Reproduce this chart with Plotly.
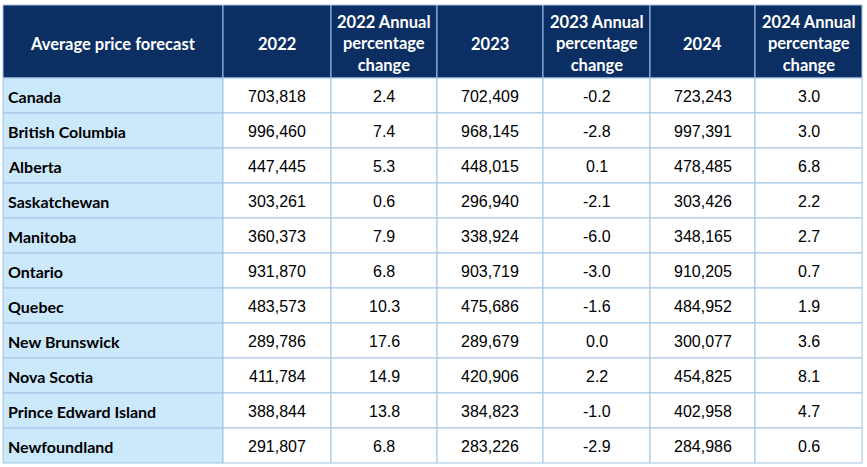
import plotly.graph_objects as go
import numpy as np

regions = ["Canada", "British Columbia", "Alberta", "Saskatchewan", "Manitoba", "Ontario",
           "Quebec", "New Brunswick", "Nova Scotia", "Prince Edward Island", "Newfoundland"]
price_2022 = [703818, 996460, 447445, 303261, 360373, 931870, 483573, 289786, 411784, 388844, 291807]
pct_2022 = [2.4, 7.4, 5.3, 0.6, 7.9, 6.8, 10.3, 17.6, 14.9, 13.8, 6.8]
price_2023 = [702409, 968145, 448015, 296940, 338924, 903719, 475686, 289679, 420906, 384823, 283226]
pct_2023 = [-0.2, -2.8, 0.1, -2.1, -6.0, -3.0, -1.6, 0.0, 2.2, -1.0, -2.9]
price_2024 = [723243, 997391, 478485, 303426, 348165, 910205, 484952, 300077, 454825, 402958, 284986]
pct_2024 = [3.0, 3.0, 6.8, 2.2, 2.7, 0.7, 1.9, 3.6, 8.1, 4.7, 0.6]

headers = ["Average price forecast", "2022", "2022 Annual<br>percentage<br>change",
           "2023", "2023 Annual<br>percentage<br>change",
           "2024", "2024 Annual<br>percentage<br>change"]

# layout (pixels)
W, H = 867, 467
left, top = 3, 5
col_widths = [220, 108, 106, 106, 107, 105, 107]
header_h = 73
row_h = 35

navy = "#0B2F63"
lightblue = "#CCE9FC"
border = "#A0C4E4"

def fmt_price(v):
    return [f"{x:,}" for x in v]

def fmt_pct(v):
    return [f"{x:.1f}" for x in v]

cols = [
    regions,
    fmt_price(price_2022), fmt_pct(pct_2022),
    fmt_price(price_2023), fmt_pct(pct_2023),
    fmt_price(price_2024), fmt_pct(pct_2024),
]

x_edges = left + np.concatenate([[0], np.cumsum(col_widths)])
n = len(regions)
y_edges = [top, top + header_h] + [top + header_h + row_h * (i + 1) for i in range(n)]

shapes = []
annotations = []

# header
for j, h in enumerate(headers):
    x0, x1 = x_edges[j], x_edges[j + 1]
    y0, y1 = y_edges[0], y_edges[1]
    shapes.append(dict(type="rect", x0=x0, x1=x1, y0=y0, y1=y1, xref="x", yref="y",
                       fillcolor=navy, line=dict(color=border, width=1), layer="below"))
    annotations.append(dict(x=(x0 + x1) / 2, y=(y0 + y1) / 2 + 2, xref="x", yref="y",
                            text="<b>" + h + "</b>", showarrow=False, align="center",
                            xanchor="center", yanchor="middle",
                            font=dict(family="Lato", size=16.5, color="white")))

# body
for j, col in enumerate(cols):
    x0, x1 = x_edges[j], x_edges[j + 1]
    for i, val in enumerate(col):
        y0, y1 = y_edges[i + 1], y_edges[i + 2]
        shapes.append(dict(type="rect", x0=x0, x1=x1, y0=y0, y1=y1, xref="x", yref="y",
                           fillcolor=lightblue if j == 0 else "white",
                           line=dict(color=border, width=1), layer="below"))
        if j == 0:
            annotations.append(dict(x=x0 + 3, y=(y0 + y1) / 2 + 1, xref="x", yref="y",
                                    text="<b>" + val + "</b>", showarrow=False,
                                    xanchor="left", yanchor="middle",
                                    font=dict(family="Lato", size=16, color="black")))
        else:
            annotations.append(dict(x=(x0 + x1) / 2, y=(y0 + y1) / 2 + 1, xref="x", yref="y",
                                    text=val, showarrow=False,
                                    xanchor="center", yanchor="middle",
                                    font=dict(family="Liberation Sans", size=16, color="black")))

fig = go.Figure()
fig.update_layout(
    width=W, height=H,
    margin=dict(l=0, r=0, t=0, b=0),
    paper_bgcolor="white", plot_bgcolor="white",
    xaxis=dict(range=[0, W], visible=False, fixedrange=True),
    yaxis=dict(range=[H, 0], visible=False, fixedrange=True),
    shapes=shapes, annotations=annotations,
    showlegend=False,
)

fig.write_html("out.html", config={"displayModeBar": False},
               post_script="document.body.style.margin='0';document.body.style.overflow='hidden';")
